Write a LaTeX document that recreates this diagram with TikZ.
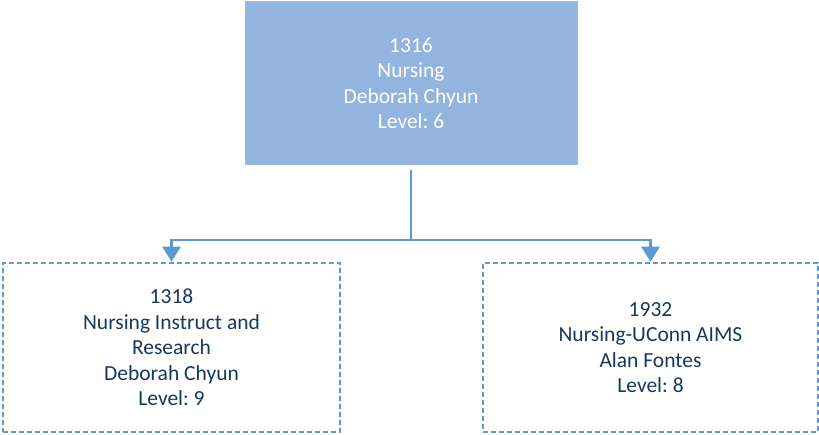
\documentclass[tikz,border=0pt]{standalone}
\usepackage{fontspec}
\setmainfont{Carlito}
\usetikzlibrary{arrows.meta}
\definecolor{topfill}{HTML}{93B4DE}
\definecolor{lineblue}{HTML}{5B9BD5}
\definecolor{navy}{HTML}{17375E}
\tikzset{
  topbox/.style={draw=topfill!90!white, fill=topfill, line width=1pt, text=white,
    align=center, font=\fontsize{21.5}{25.5}\selectfont, inner sep=0pt},
  childbox/.style={draw=lineblue, line width=2.5pt, dash pattern=on 5pt off 3pt,
    text=navy, align=center, font=\fontsize{21.5}{25.5}\selectfont, inner sep=0pt},
  conn/.style={draw=lineblue, line width=2.6pt},
  arr/.style={conn, -{Triangle[width=18pt,length=15pt]}}
}
\begin{document}
\frenchspacing
\begin{tikzpicture}[x=1pt,y=-1pt]
\useasboundingbox (0,0) rectangle (819,435);
\node[topbox, minimum width=332pt, minimum height=163pt] (top) at (411,83.5)
  {1316\\Nursing\\Deborah Chyun\\Level: 6};
\node[childbox, minimum width=337pt, minimum height=169pt] (left) at (171.5,347.5)
  {1318\\Nursing Instruct and\\Research\\Deborah Chyun\\Level: 9};
\node[childbox, minimum width=335pt, minimum height=169pt] (right) at (650.5,347.5)
  {1932\\Nursing-UConn AIMS\\Alan Fontes\\Level: 8};
\coordinate (j) at (411,240);
\draw[conn] ([yshift=-5pt]top.south) -- (j);
\draw[arr] (j) -| (left.north);
\draw[arr] (j) -| (right.north);
\end{tikzpicture}
\end{document}
